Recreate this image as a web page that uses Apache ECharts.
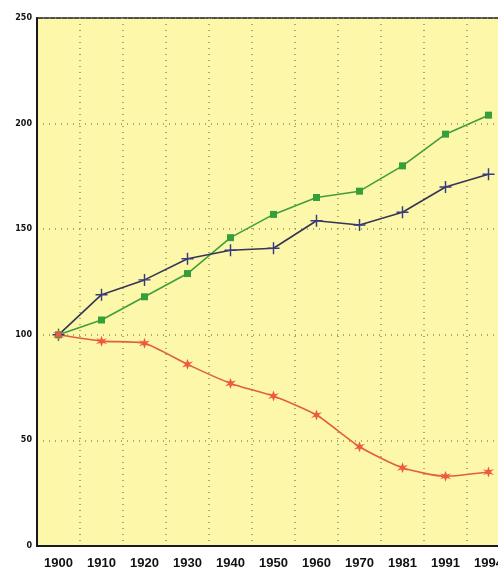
<!DOCTYPE html>
<html>
<head>
<meta charset="utf-8">
<script src="https://cdn.jsdelivr.net/npm/echarts@6/dist/echarts.min.js"></script>
<style>html,body{margin:0;padding:0;background:#fff;}#c{width:498px;height:569px;}</style>
</head>
<body>
<div id="c"></div>
<script>
var years = ['1900','1910','1920','1930','1940','1950','1960','1970','1981','1991','1994'];
var greenSeries = [100,107,118,129,146,157,165,168,180,195,204];
var navySeries = [100,119,126,136,140,141,154,152,158,170,176];
var redSeries = [100,97,96,86,77,71,62,47,37,33,35];
var yTicks = [0,50,100,150,200,250];

var chart = echarts.init(document.getElementById('c'), null, {renderer:'canvas'});
var plus = 'path://M-0.6,-5H0.6V-0.6H5V0.6H0.6V5H-0.6V0.6H-5V-0.6H-0.6Z';
var star = 'path://M0,-5L1.2,-1.6L4.8,-2.6L2,0L4.8,2.6L1.2,1.6L0,5L-1.2,1.6L-4.8,2.6L-2,0L-4.8,-2.6L-1.2,-1.6Z';
chart.setOption({
  animation:false,
  backgroundColor:'#ffffff',
  grid:{left:37,width:473,top:18,bottom:23,outerBoundsMode:'none',containLabel:false,show:true,backgroundColor:'#fcf7a9',borderColor:'#1a1a1a',borderWidth:1.5},
  xAxis:{type:'category',data:years,boundaryGap:true,
    axisLine:{show:true,lineStyle:{color:'#1a1a1a',width:2}},
    axisTick:{show:false},
    axisLabel:{color:'#111',fontWeight:'bold',fontSize:13,fontFamily:'Liberation Sans, Arial, sans-serif',margin:11,interval:0},
    splitLine:{show:true,interval:0,lineStyle:{color:'#8f8f6a',type:[1,5],width:1.5}}},
  yAxis:{type:'value',min:0,max:250,interval:50,
    axisLine:{show:true,lineStyle:{color:'#1a1a1a',width:2}},
    axisTick:{show:false},
    axisLabel:{color:'#111',fontWeight:'bold',fontSize:8,fontFamily:'DejaVu Sans, sans-serif',margin:5,
      formatter:function(v){return yTicks.indexOf(v)>=0?String(v):'';}},
    splitLine:{show:true,lineStyle:{color:'#8f8f6a',type:[1,5],width:1.5}}},
  series:[
    {name:'green',type:'line',data:greenSeries,symbol:'rect',symbolSize:7,
      lineStyle:{color:'#3f9f3a',width:1.6},itemStyle:{color:'#35a03a'}},
    {name:'navy',type:'line',data:navySeries,symbol:plus,symbolSize:12,
      lineStyle:{color:'#363554',width:1.6},itemStyle:{color:'#3a3a80'}},
    {name:'red',type:'line',data:redSeries,symbol:star,symbolSize:11,smooth:0.2,
      lineStyle:{color:'#e0603c',width:1.6},itemStyle:{color:'#ee5a40'}}
  ]
});
</script>
</body>
</html>
